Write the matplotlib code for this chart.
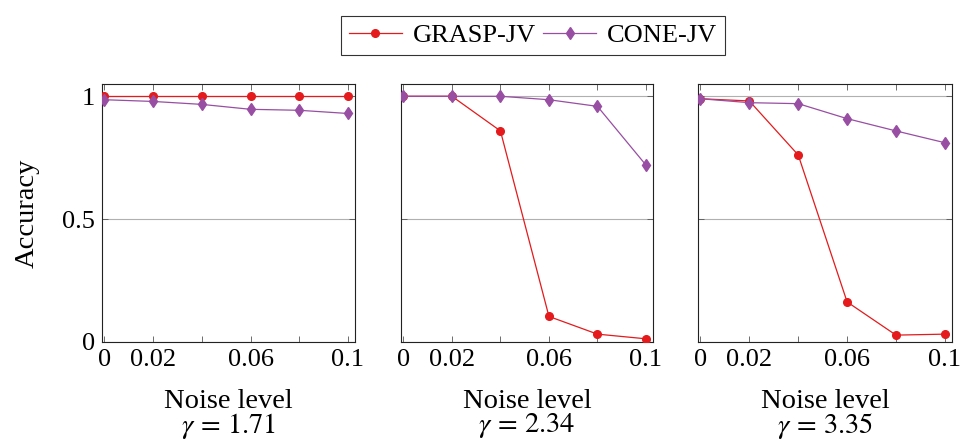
import matplotlib
matplotlib.use("Agg")
import matplotlib.pyplot as plt
from matplotlib.lines import Line2D

plt.rcParams['font.family'] = ['Liberation Serif', 'DejaVu Serif']
plt.rcParams['mathtext.fontset'] = 'stix'

noise = [0.0, 0.02, 0.04, 0.06, 0.08, 0.1]
xtick_labels = {0.0: "0", 0.02: "0.02", 0.06: "0.06", 0.1: "0.1"}
gammas = ["1.71", "2.34", "3.35"]

grasp = [
    [1.0, 1.0, 1.0, 1.0, 1.0, 1.0],
    [1.0, 1.0, 0.859, 0.104, 0.032, 0.013],
    [0.990, 0.981, 0.761, 0.163, 0.028, 0.032],
]
cone = [
    [0.986, 0.979, 0.967, 0.947, 0.943, 0.930],
    [1.0, 1.0, 1.0, 0.986, 0.959, 0.720],
    [0.990, 0.974, 0.970, 0.909, 0.859, 0.811],
]

red = "#e41a1c"
purple = "#984ea3"

fig = plt.figure(figsize=(9.6, 4.45), dpi=100)
lefts = [102, 401, 698]
rights = [355, 653, 952]
top_px, bot_px = 84, 342
FS = 19
LFS = 20.5

axes = []
for i in range(3):
    l = lefts[i] / 960
    w = (rights[i] - lefts[i]) / 960
    b = 1 - bot_px / 445
    h = (bot_px - top_px) / 445
    ax = fig.add_axes([l, b, w, h])
    axes.append(ax)
    ax.plot(noise, grasp[i], color=red, lw=0.9, marker='o', ms=5.5, mec=red, mfc=red, zorder=3)
    ax.plot(noise, cone[i], color=purple, lw=0.9, marker='d', ms=6.5, mec=purple, mfc=purple, zorder=3)
    ax.set_xlim(-0.001, 0.1029)
    ax.set_ylim(0, 1.05)
    ax.set_xticks(noise)
    ax.set_xticklabels([xtick_labels.get(round(v, 2), "") for v in noise])
    ax.set_yticks([0, 0.5, 1])
    if i == 0:
        ax.set_yticklabels(["0", "0.5", "1"])
        ax.set_ylabel("Accuracy", fontsize=LFS, labelpad=16)
    else:
        ax.set_yticklabels([])
    ax.yaxis.grid(True, color="#b0b0b0", lw=0.8)
    ax.set_axisbelow(True)
    ax.tick_params(direction='in', top=True, right=True, length=4, width=0.6,
                   color="#555555", labelsize=FS, pad=5)
    for s in ax.spines.values():
        s.set_linewidth(0.8)
        s.set_color("#222222")
    ax.set_xlabel("Noise level\n$\\gamma\\,=\\,%s$" % gammas[i], fontsize=LFS, labelpad=13, linespacing=0.88)

handles = [
    Line2D([], [], color=red, lw=0.9, marker='o', ms=5.5),
    Line2D([], [], color=purple, lw=0.9, marker='d', ms=6.5),
]
leg = fig.legend(handles, ["GRASP-JV", "CONE-JV"], loc='center', bbox_to_anchor=(533 / 960, 1 - 35.5 / 445),
                 ncol=2, fontsize=FS, frameon=True, fancybox=False, edgecolor='black',
                 handlelength=2.0, handletextpad=0.4, columnspacing=0.3, borderpad=0.3)
leg.get_frame().set_linewidth(0.8)

fig.savefig("out.png", dpi=100)
